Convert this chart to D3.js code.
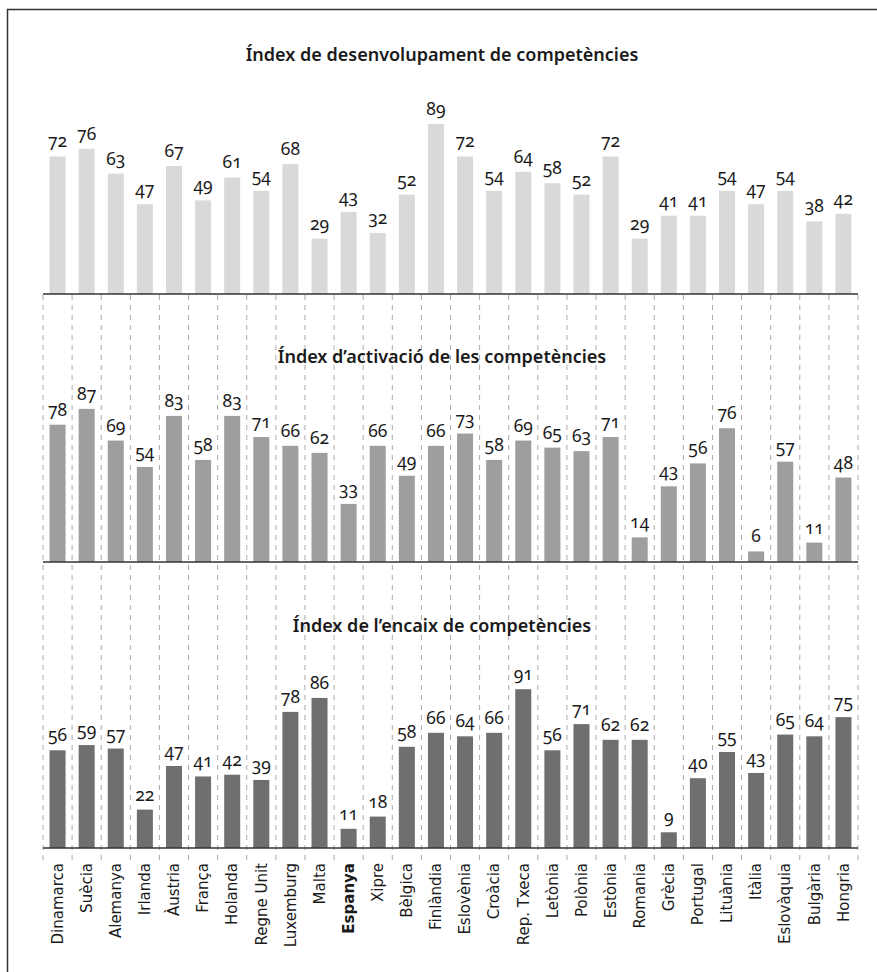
<!DOCTYPE html>
<html>
<head>
<meta charset="utf-8">
<script src="https://cdn.jsdelivr.net/npm/d3@7"></script>
<style>
  body { margin: 0; background: #fff; }
  .value { font-family: "Noto Sans", "Open Sans", sans-serif; font-size: 17.5px; fill: #1a1a1a; font-variant-numeric: oldstyle-nums; }
  .title { font-family: "Noto Sans", "Open Sans", sans-serif; font-size: 18px; font-weight: 600; fill: #1a1a1a; }
  .country { font-family: "DejaVu Sans", sans-serif; font-size: 15px; fill: #1a1a1a; }
</style>
</head>
<body>
<div id="graph"></div>
<script>
const countries = ["Dinamarca", "Suècia", "Alemanya", "Irlanda", "Àustria", "França", "Holanda", "Regne Unit",
	"Luxemburg", "Malta", "Espanya", "Xipre", "Bèlgica", "Finlàndia", "Eslovènia", "Croàcia", "Rep. Txeca",
	"Letònia", "Polònia", "Estònia", "Romania", "Grècia", "Portugal", "Lituània", "Itàlia", "Eslovàquia",
	"Bulgària", "Hongria"];

const desenvolupament = [72, 76, 63, 47, 67, 49, 61, 54, 68, 29, 43, 32, 52, 89, 72, 54, 64, 58, 52, 72, 29, 41, 41, 54, 47, 54, 38, 42];
const activacio = [78, 87, 69, 54, 83, 58, 83, 71, 66, 62, 33, 66, 49, 66, 73, 58, 69, 65, 63, 71, 14, 43, 56, 76, 6, 57, 11, 48];
const encaix = [56, 59, 57, 22, 47, 41, 42, 39, 78, 86, 11, 18, 58, 66, 64, 66, 91, 56, 71, 62, 62, 9, 40, 55, 43, 65, 64, 75];

const titles = ["Índex de desenvolupament de competències", "Índex d’activació de les competències", "Índex de l’encaix de competències"];

const width = 877, height = 972;
const left = 43, right = 858;

// one entry per panel: baseline and top of the 0-100 range
const panels = [
	{values: desenvolupament, title: titles[0], base: 294, top: 103, titleY: 61, color: "#d9d9d9"},
	{values: activacio, title: titles[1], base: 562, top: 386, titleY: 363, color: "#9e9e9e"},
	{values: encaix, title: titles[2], base: 848, top: 673.5, titleY: 632, color: "#6f6f6f"}
];

const svg = d3.select("#graph")
	.append("svg")
	.attr("width", width)
	.attr("height", height);

// frame (top and left edges)
svg.append("path")
	.attr("d", "M7.5," + height + "V9.5H" + width)
	.attr("fill", "none")
	.attr("stroke", "#333")
	.attr("stroke-width", 1.5);

const xScale = d3.scaleBand()
	.domain(countries)
	.range([left, right])
	.paddingInner(0.45)
	.paddingOuter(0.225);

const step = xScale.step();
const edges = countries.map((c) => xScale(c) + xScale.bandwidth() / 2 - step / 2);
edges.push(right);

// dashed separators between countries
svg.selectAll("line.grid")
	.data(edges)
	.enter().append("line")
	.attr("class", "grid")
	.attr("x1", (d) => d)
	.attr("x2", (d) => d)
	.attr("y1", 295)
	.attr("y2", 861)
	.attr("stroke", "#aaa")
	.attr("stroke-width", 1)
	.attr("stroke-dasharray", "5,5");

panels.forEach((p) => {
	const yScale = d3.scaleLinear()
		.domain([0, 100])
		.range([p.base, p.top]);

	const g = svg.append("g");

	g.selectAll("rect")
		.data(p.values)
		.enter().append("rect")
		.attr("x", (d, i) => xScale(countries[i]))
		.attr("width", xScale.bandwidth())
		.attr("y", (d) => yScale(d))
		.attr("height", (d) => p.base - yScale(d))
		.attr("fill", p.color);

	g.selectAll("text.value")
		.data(p.values)
		.enter().append("text")
		.attr("class", "value")
		.attr("x", (d, i) => xScale(countries[i]) + xScale.bandwidth() / 2)
		.attr("y", (d) => yScale(d) - 9)
		.attr("text-anchor", "middle")
		.text((d) => d);

	g.append("line")
		.attr("x1", left)
		.attr("x2", right)
		.attr("y1", p.base)
		.attr("y2", p.base)
		.attr("stroke", "#333")
		.attr("stroke-width", 1.5);

	svg.append("text")
		.attr("class", "title")
		.attr("x", 442)
		.attr("y", p.titleY)
		.attr("text-anchor", "middle")
		.text(p.title);
});

// rotated country names
svg.selectAll("text.country")
	.data(countries)
	.enter().append("text")
	.attr("class", "country")
	.attr("transform", (d) => "translate(" + (xScale(d) + xScale.bandwidth() / 2) + ",863) rotate(-90)")
	.attr("dy", "0.35em")
	.attr("text-anchor", "end")
	.style("font-weight", (d) => d === "Espanya" ? "bold" : "normal")
	.text((d) => d);
</script>
</body>
</html>
